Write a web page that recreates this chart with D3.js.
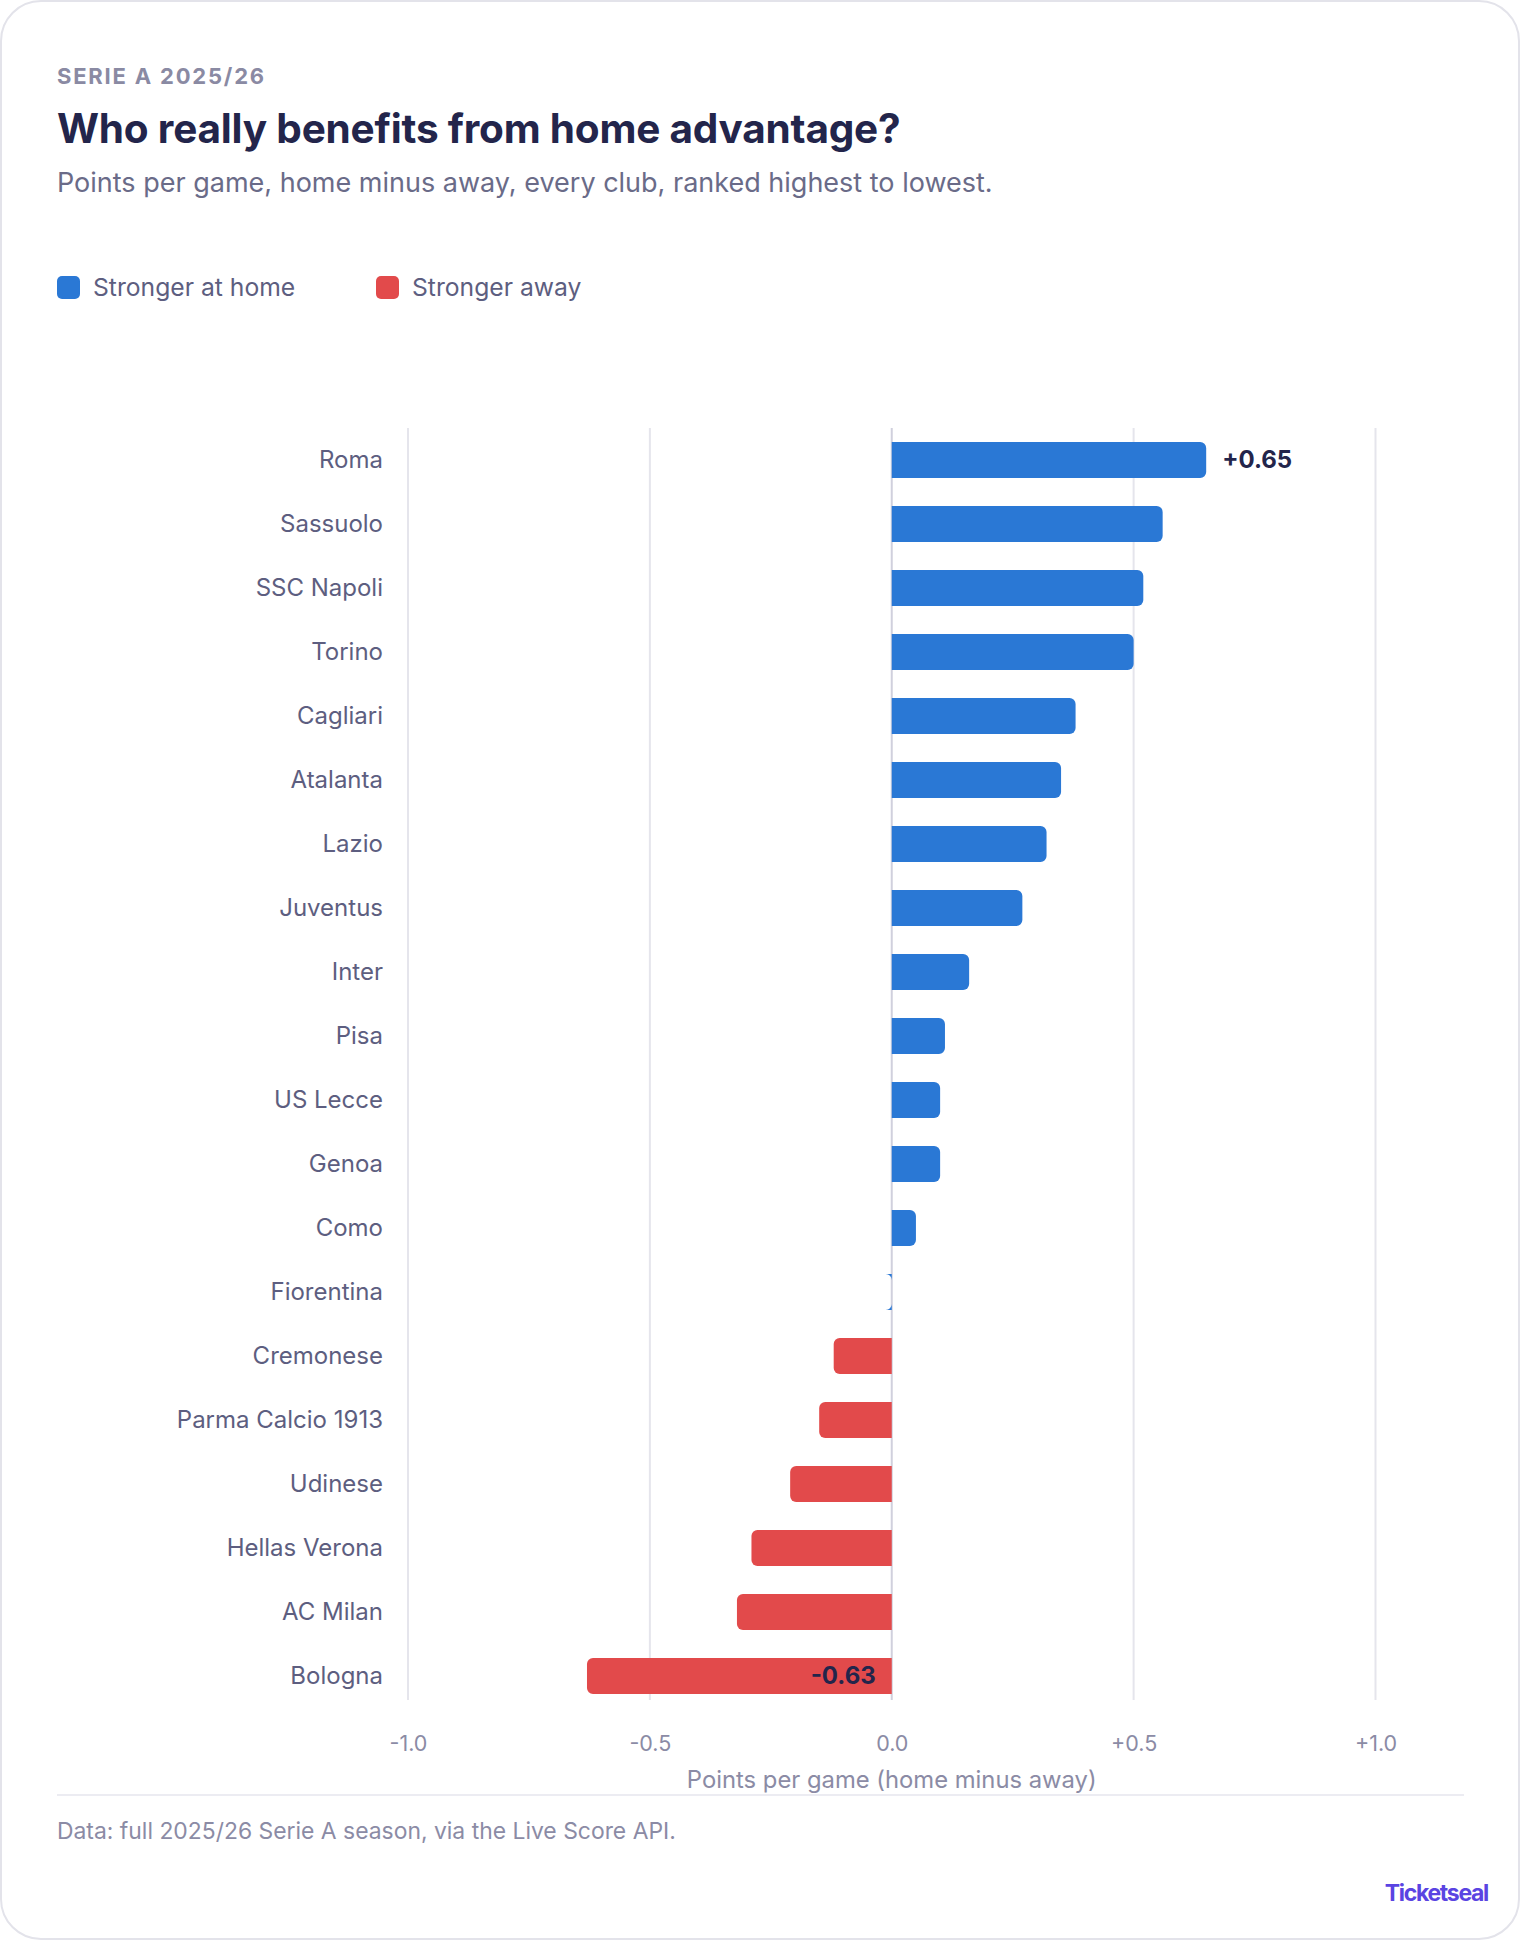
<!DOCTYPE html>
<html>
<head>
<meta charset="utf-8">
<script src="https://cdn.jsdelivr.net/npm/d3@7"></script>
<style>
  html, body { margin: 0; padding: 0; background: #ffffff; }
  svg { display: block; font-family: Inter, "Noto Sans", sans-serif; }
</style>
</head>
<body>
<div id="chart"></div>
<script>
// clubs, ranked by home minus away points per game
var teams = ['Roma', 'Sassuolo', 'SSC Napoli', 'Torino', 'Cagliari', 'Atalanta', 'Lazio',
  'Juventus', 'Inter', 'Pisa', 'US Lecce', 'Genoa', 'Como', 'Fiorentina', 'Cremonese',
  'Parma Calcio 1913', 'Udinese', 'Hellas Verona', 'AC Milan', 'Bologna'];
var diffs = [0.65, 0.56, 0.52, 0.50, 0.38, 0.35, 0.32, 0.27, 0.16, 0.11, 0.10, 0.10, 0.05,
  0.00, -0.12, -0.15, -0.21, -0.29, -0.32, -0.63];
var tickValues = [-1, -0.5, 0, 0.5, 1];
var tickLabels = ['-1.0', '-0.5', '0.0', '+0.5', '+1.0'];
var legendLabels = ['Stronger at home', 'Stronger away'];

var W = 1520, H = 1940;
var blue = '#2a78d5', red = '#e24a4b';
var ink = '#23254b', label = '#5d5e80', muted = '#8b8ba5';

var svg = d3.select('#chart').append('svg')
  .attr('width', W)
  .attr('height', H);

// card
svg.append('rect')
  .attr('x', 1).attr('y', 1)
  .attr('width', W - 2).attr('height', H - 2)
  .attr('rx', 40)
  .style('fill', '#fff')
  .style('stroke', '#e3e3ea')
  .style('stroke-width', 2);

svg.append('text')
  .attr('x', 57).attr('y', 84)
  .text('SERIE A 2025/26')
  .style('font-size', '22px').style('font-weight', 700)
  .style('letter-spacing', '1.8px')
  .style('fill', '#8a8aa3');

svg.append('text')
  .attr('x', 57).attr('y', 143)
  .text('Who really benefits from home advantage?')
  .style('font-size', '40.5px').style('font-weight', 700)
  .style('letter-spacing', '-0.2px')
  .style('fill', ink);

svg.append('text')
  .attr('x', 57).attr('y', 192)
  .text('Points per game, home minus away, every club, ranked highest to lowest.')
  .style('font-size', '27px')
  .style('fill', '#6a6b88');

// legend
var legend = svg.selectAll('.legend')
  .data(legendLabels)
  .enter()
  .append('g')
  .classed('legend', true)
  .attr('transform', function (d, i) { return 'translate(' + (i ? 376 : 57) + ',276)'; });

legend.append('rect')
  .attr('width', 23).attr('height', 23).attr('rx', 5)
  .style('fill', function (d, i) { return i ? red : blue; });

legend.append('text')
  .attr('x', 36).attr('y', 20)
  .text(function (d) { return d; })
  .style('font-size', '24.7px')
  .style('fill', label);

// scales
var x = d3.scaleLinear().domain([-1, 1]).range([408, 1375.5]);
var y = d3.scaleBand().domain(teams).range([428, 1708])
  .paddingInner(0.44).paddingOuter(0.22);

var rows = teams.map(function (t, i) { return { team: t, v: diffs[i] }; });

// gridlines
svg.selectAll('.grid')
  .data(tickValues)
  .enter()
  .append('line')
  .classed('grid', true)
  .attr('x1', function (d) { return x(d); })
  .attr('x2', function (d) { return x(d); })
  .attr('y1', 428).attr('y2', 1700)
  .style('stroke', function (d) { return d === 0 ? '#d0d0dd' : '#e5e5ec'; })
  .style('stroke-width', 2);

// bars, rounded only at the outer end
var r = 6;
var barPath = function (d) {
  var x0 = x(0), y0 = y(d.team), h = y.bandwidth();
  var w = x(d.v) - x0;
  var s = w < 0 ? -1 : 1;
  return 'M' + x0 + ',' + y0 +
    'h' + (w - s * r) +
    'a' + r + ',' + r + ' 0 0 ' + (s > 0 ? 1 : 0) + ' ' + (s * r) + ',' + r +
    'v' + (h - 2 * r) +
    'a' + r + ',' + r + ' 0 0 ' + (s > 0 ? 1 : 0) + ' ' + (-s * r) + ',' + r +
    'h' + (-(w - s * r)) + 'Z';
};

svg.selectAll('.bar')
  .data(rows)
  .enter()
  .append('path')
  .classed('bar', true)
  .attr('d', barPath)
  .style('fill', function (d) { return d.v < 0 ? red : blue; });

// team names
svg.selectAll('.team')
  .data(rows)
  .enter()
  .append('text')
  .classed('team', true)
  .attr('x', 383)
  .attr('y', function (d) { return y(d.team) + y.bandwidth() / 2; })
  .attr('dy', '0.35em')
  .attr('text-anchor', 'end')
  .text(function (d) { return d.team; })
  .style('font-size', '24px')
  .style('fill', label);

// value labels for the top and bottom clubs
var top1 = rows[0], last = rows[rows.length - 1];
svg.append('text')
  .attr('x', x(top1.v) + 16)
  .attr('y', y(top1.team) + y.bandwidth() / 2)
  .attr('dy', '0.35em')
  .text('+' + top1.v.toFixed(2))
  .style('font-size', '24px').style('font-weight', 700)
  .style('fill', ink);

svg.append('text')
  .attr('x', x(0) - 16)
  .attr('y', y(last.team) + y.bandwidth() / 2)
  .attr('dy', '0.35em')
  .attr('text-anchor', 'end')
  .text(last.v.toFixed(2))
  .style('font-size', '24px').style('font-weight', 700)
  .style('fill', ink);

// x axis
var axis = svg.append('g')
  .attr('transform', 'translate(0,1700)')
  .call(d3.axisBottom(x).tickValues(tickValues)
    .tickFormat(function (d, i) { return tickLabels[i]; })
    .tickSize(0).tickPadding(36));
axis.select('.domain').remove();
axis.selectAll('text')
  .style('font-family', 'Inter, sans-serif')
  .style('font-size', '21.5px')
  .style('fill', muted);

svg.append('text')
  .attr('x', x(0)).attr('y', 1788)
  .attr('text-anchor', 'middle')
  .text('Points per game (home minus away)')
  .style('font-size', '23.8px')
  .style('fill', muted);

svg.append('line')
  .attr('x1', 57).attr('x2', 1464)
  .attr('y1', 1795).attr('y2', 1795)
  .style('stroke', '#ececf2')
  .style('stroke-width', 2);

svg.append('text')
  .attr('x', 57).attr('y', 1839)
  .text('Data: full 2025/26 Serie A season, via the Live Score API.')
  .style('font-size', '22.9px')
  .style('fill', muted);

svg.append('text')
  .attr('x', 1488).attr('y', 1901)
  .attr('text-anchor', 'end')
  .text('Ticketseal')
  .style('font-size', '23px').style('font-weight', 700)
  .style('letter-spacing', '-1.3px')
  .style('fill', '#5a44e2');
</script>
</body>
</html>
